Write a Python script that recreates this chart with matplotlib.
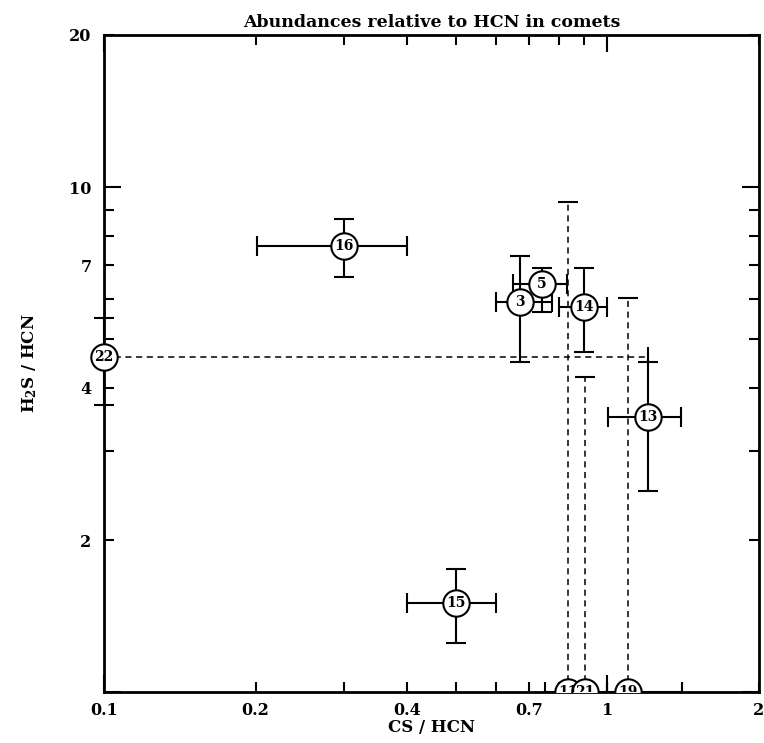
import matplotlib
matplotlib.use("Agg")
import matplotlib.pyplot as plt

# comets with both CS and H2S measured
ids = ["3", "5", "13", "14", "15", "16"]
cs = [0.670, 0.741, 1.204, 0.898, 0.50, 0.30]
cs_lo = [0.601, 0.649, 1.002, 0.801, 0.40, 0.201]
cs_hi = [0.776, 0.831, 1.40, 1.00, 0.601, 0.40]
h2s = [5.92, 6.43, 3.50, 5.79, 1.50, 7.64]
h2s_lo = [4.50, 5.66, 2.50, 4.71, 1.25, 6.63]
h2s_hi = [7.30, 6.91, 4.50, 6.91, 1.75, 8.64]

# comet with H2S only (CS range dashed)
cs_only_id = ["22"]
cs_only_x = [0.10]
cs_only_xmax = [1.204]
cs_only_y = [4.61]
cs_only_ylo = [3.70]
cs_only_yhi = [5.50]

# comets with CS only (H2S range dashed)
h2s_only_id = ["11", "21", "19"]
h2s_only_x = [0.835, 0.902, 1.099]
h2s_only_xlo = [0.752, 0.85, 1.00]
h2s_only_xhi = [0.923, 1.00, 1.406]
h2s_only_y = [1.0, 1.0, 1.0]
h2s_only_ymax = [9.34, 4.205, 6.03]

x_ticks_major = [0.1, 1]
x_labels_major = ["0.1", "1"]
x_ticks_minor = [0.2, 0.3, 0.4, 0.5, 0.6, 0.7, 0.8, 0.9, 2]
x_labels_minor = ["0.2", "", "0.4", "", "", "0.7", "", "", "2"]
y_ticks_major = [1, 10]
y_labels_major = ["", "10"]
y_ticks_minor = [2, 3, 4, 5, 6, 7, 8, 9, 20]
y_labels_minor = ["2", "", "4", "", "", "7", "", "", "20"]

plt.rcParams["font.family"] = ["DejaVu Serif"]
plt.rcParams["font.weight"] = "bold"
plt.rcParams["mathtext.fontset"] = "dejavuserif"

fig = plt.figure(figsize=(7.64, 7.43), dpi=100)
ax = fig.add_axes([0.1361, 0.0686, 0.8573, 0.8843])
ax.set_xscale("log")
ax.set_yscale("log")
ax.set_xlim(0.1, 2)
ax.set_ylim(1, 20)

lw = 1.5
cap = 7
ms = 19

# full detections
xerr = [[c - lo for c, lo in zip(cs, cs_lo)], [hi - c for c, hi in zip(cs, cs_hi)]]
yerr = [[h - lo for h, lo in zip(h2s, h2s_lo)], [hi - h for h, hi in zip(h2s, h2s_hi)]]
ax.errorbar(cs, h2s, xerr=xerr, yerr=yerr, fmt="none", ecolor="black",
            elinewidth=lw, capsize=cap, capthick=lw, zorder=2)

# 22: solid H2S bar, dashed CS range
ax.errorbar(cs_only_x, cs_only_y,
            yerr=[[y - lo for y, lo in zip(cs_only_y, cs_only_ylo)],
                  [hi - y for y, hi in zip(cs_only_y, cs_only_yhi)]],
            fmt="none", ecolor="black", elinewidth=lw, capsize=cap, capthick=lw,
            zorder=2, clip_on=False)
eb = ax.errorbar(cs_only_x, cs_only_y,
                 xerr=[[0] * len(cs_only_x),
                       [m - x for x, m in zip(cs_only_x, cs_only_xmax)]],
                 fmt="none", ecolor="black", elinewidth=1.1, capsize=cap,
                 capthick=lw, zorder=2, clip_on=False)
eb[2][0].set_linestyle((0, (4, 3)))

# 11, 21, 19: solid CS bar, dashed H2S range
ax.errorbar(h2s_only_x, h2s_only_y,
            xerr=[[x - lo for x, lo in zip(h2s_only_x, h2s_only_xlo)],
                  [hi - x for x, hi in zip(h2s_only_x, h2s_only_xhi)]],
            fmt="none", ecolor="black", elinewidth=lw, capsize=cap, capthick=lw,
            zorder=2)
eb = ax.errorbar(h2s_only_x, h2s_only_y,
                 yerr=[[0] * len(h2s_only_x),
                       [m - y for y, m in zip(h2s_only_y, h2s_only_ymax)]],
                 fmt="none", ecolor="black", elinewidth=1.1, capsize=cap,
                 capthick=lw, zorder=2)
eb[2][0].set_linestyle((0, (4, 3)))

# circles with comet numbers
def label_points(xs, ys, names, clip):
    ax.plot(xs, ys, "o", ms=ms, mfc="white", mec="black", mew=1.5,
            zorder=3, clip_on=clip)
    for x, y, n in zip(xs, ys, names):
        ax.text(x, y, n, ha="center", va="center", fontsize=10,
                fontweight="bold", zorder=4, clip_on=clip)

label_points(cs, h2s, ids, False)
label_points(cs_only_x, cs_only_y, cs_only_id, False)
label_points(h2s_only_x, h2s_only_y, h2s_only_id, True)

ax.set_xticks(x_ticks_major)
ax.set_xticklabels(x_labels_major)
ax.set_xticks(x_ticks_minor, minor=True)
ax.set_xticklabels(x_labels_minor, minor=True)
ax.set_yticks(y_ticks_major)
ax.set_yticklabels(y_labels_major)
ax.set_yticks(y_ticks_minor, minor=True)
ax.set_yticklabels(y_labels_minor, minor=True)

for which, length in (("major", 12), ("minor", 7)):
    ax.tick_params(axis="both", which=which, direction="in", length=length,
                   width=1.5, top=True, right=True, labelsize=11.5, pad=9)
    ax.tick_params(axis="x", which=which, pad=7)

for s in ax.spines.values():
    s.set_linewidth(2)

ax.set_xlabel("CS / HCN", fontsize=12, fontweight="bold", labelpad=0)
ax.set_ylabel("H$_\\mathbf{2}$S / HCN", fontsize=12, fontweight="bold", labelpad=22)
ax.set_title("Abundances relative to HCN in comets", fontsize=12.5,
             fontweight="bold", pad=6)

fig.savefig("out.png", dpi=100)
